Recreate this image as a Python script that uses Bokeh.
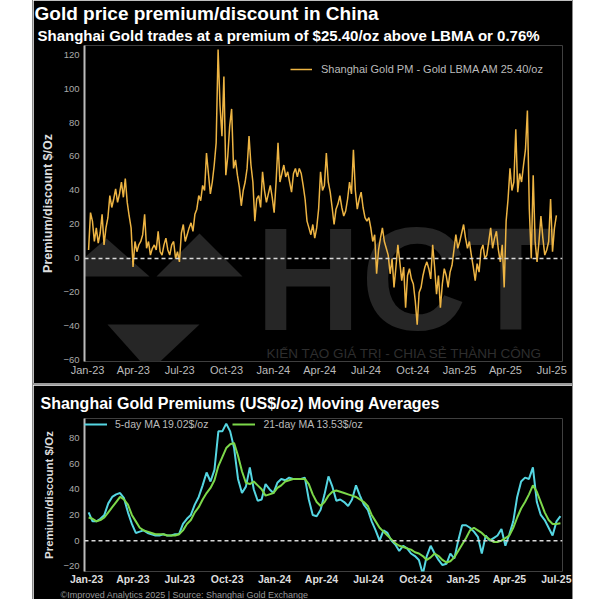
import pandas as pd
from bokeh.plotting import figure
from bokeh.models import (Range1d, FixedTicker, DatetimeTickFormatter, Span, Legend,
                          LegendItem, Title, Label, PolyAnnotation, Spacer)
from bokeh.layouts import row, column
from bokeh.embed import file_html
from bokeh.resources import INLINE

FONT = "Liberation Sans"
GOLD = "#EDB443"
CYAN = "#55D6E2"
GREEN = "#7CD84A"

# ---------------- data ----------------
tick_dates = ["2023-01-01", "2023-04-01", "2023-07-01", "2023-10-01",
              "2024-01-01", "2024-04-01", "2024-07-01", "2024-10-01",
              "2025-01-01", "2025-04-01", "2025-07-01"]

# Shanghai Gold PM - Gold LBMA AM premium ($/oz), ~8 readings per month
prem_2023 = [5, 27, 22, 10, 18, 9, 15, 26,
             8, 18, 24, 37, 30, 35, 41, 33,
             38, 45, 36, 47, 33, 25, 18, -5,
             10, 4, 8, 10, 14, 26, 6, 10,
             2, 6, 8, 5, 16, 4, 2, 8,
             12, 5, 2, 8, 10, 0, 4, -2,
             15, 20, 10, 14, 18, 21, 16, 26,
             29, 37, 34, 43, 40, 62, 50, 38,
             45, 55, 68, 123, 90, 72, 107, 49,
             60, 78, 88, 53, 58, 49, 42, 31,
             40, 45, 53, 72, 55, 45, 22, 35,
             37, 30, 51, 40, 33, 38, 43, 36]
prem_2024 = [27, 45, 68, 45, 50, 55, 48, 51,
             45, 39, 50, 53, 48, 53, 50, 43,
             35, 22, 18, 14, 20, 12, 18, 29,
             51, 40, 43, 62, 45, 39, 30, 20,
             29, 32, 37, 30, 25, 28, 35, 45,
             38, 64, 40, 29, 35, 39, 30, 24,
             22, 24, 18, 10, 14, -9, 5, 12,
             18, 10, 6, 2, -9, 0, -17, -5,
             8, -2, -13, -5, -29, -10, -6, -12,
             -15, -25, -39, -20, -17, -10, -5, -2,
             -6, -12, 8, -5, -21, -10, -29, -15,
             -6, -10, -17, -8, -4, 5, 14, 6]
prem_2025 = [10, 15, 20, 12, 6, 10, 2, -5,
             -13, -3, -8, 5, 8, 0, 2, 10,
             18, 6, 12, 16, 5, -2, 8, -17,
             22, 35, 53, 40, 45, 76, 39, 50,
             45, 55, 64, 87, 29, 0, 49, 10,
             -2, 10, 25, 12, 2, 5, 10, 35,
             4, 18, 25.4]

# Moving averages (weekly readings)
ma5_2023 = [22, 15, 15, 17, 20, 29, 34, 36, 37, 33, 22, 13, 6, 7, 8, 6,
            5, 4, 4, 5, 4, 4, 5, 5, 13, 17, 20, 28, 34, 43, 53, 46,
            55, 85, 85, 91, 85, 72, 48, 37, 42, 57, 40, 31, 32, 44, 40, 37]
ma5_2024 = [45, 48, 47, 49, 48, 48, 48, 49, 32, 20, 19, 24, 36, 50, 42, 31,
            32, 30, 27, 32, 43, 35, 28, 24, 15, 8, 0, 8, 6, 0, -3, -8,
            -4, -6, -10, -12, -15, -26, -12, -4, -10, -15, -19, -18, -10, -14, 0, 12]
ma5_2025 = [12, 10, 7, 3, -10, 4, 0, 2, 4, 9, -4, 5, 15, 34, 46, 49,
            48, 57, 30, 20, 16, 10, 4, 15, 19.02]

ma21_2023 = [18, 17, 15, 16, 18, 22, 26, 30, 34, 32, 28, 20, 15, 10, 8, 7,
             6, 5, 5, 5, 4, 4, 4, 5, 8, 13, 16, 22, 26, 32, 37, 41,
             47, 58, 65, 72, 75, 76, 66, 54, 45, 44, 46, 43, 40, 35, 36, 37]
ma21_2024 = [41, 43, 46, 47, 48, 48, 48, 48, 44, 36, 30, 27, 30, 35, 38, 39,
             38, 37, 36, 35, 34, 32, 30, 27, 20, 15, 10, 7, 4, 1, -2, -4,
             -5, -6, -7, -9, -10, -12, -15, -13, -10, -12, -15, -17, -16, -13, -8, -3]
ma21_2025 = [2, 8, 10, 8, 6, 3, 1, -1, -1, 0, 2, 4, 10, 18, 25, 30,
             36, 43, 38, 30, 22, 16, 13, 13, 13.53]

prem = prem_2023 + prem_2024 + prem_2025
ma5 = ma5_2023 + ma5_2024 + ma5_2025
ma21 = ma21_2023 + ma21_2024 + ma21_2025
prem_dates = pd.date_range("2023-01-03", "2025-07-10", periods=len(prem))
ma_dates = pd.date_range("2023-01-05", "2025-07-09", periods=len(ma5))

ticks_ms = [pd.Timestamp(d).value / 1e6 for d in tick_dates]
fmt = DatetimeTickFormatter(days="%b-%y", months="%b-%y", years="%b-%y")


def style(p, ylabel, xbold, ylabel_size):
    p.xgrid.visible = False
    p.ygrid.visible = False
    xa, ya = p.xaxis[0], p.yaxis[0]
    xa.ticker = FixedTicker(ticks=ticks_ms)
    xa.formatter = fmt
    xa.axis_line_color = None
    xa.major_tick_line_color = None
    xa.minor_tick_line_color = None
    xa.major_tick_out = 0
    xa.major_tick_in = 0
    xa.major_label_standoff = 2
    xa.major_label_text_font = FONT
    if xbold:
        xa.major_label_text_font_size = "10.5px"
        xa.major_label_text_font_style = "bold"
        xa.major_label_text_color = "#dddddd"
    else:
        xa.major_label_text_font_size = "11px"
        xa.major_label_text_color = "#bbbbbb"
    ya.axis_line_color = "#bbbbbb"
    ya.axis_line_width = 2
    ya.major_tick_line_color = None
    ya.minor_tick_line_color = None
    ya.major_tick_out = 0
    ya.major_tick_in = 0
    ya.major_label_standoff = 5
    ya.major_label_text_font = FONT
    ya.major_label_text_font_size = "9.5px"
    ya.major_label_text_color = "#aaaaaa"
    ya.axis_label = ylabel
    ya.axis_label_text_font = FONT
    ya.axis_label_text_font_size = ylabel_size
    ya.axis_label_text_font_style = "bold"
    ya.axis_label_text_color = "#dddddd"
    ya.axis_label_standoff = 5
    p.add_layout(Span(location=0, dimension="width", line_color="#d8d8d8",
                      line_dash="4 3", line_width=1.5))


# ---------------- top figure ----------------
p1 = figure(width=539, height=383, x_axis_type="datetime", output_backend="svg",
            toolbar_location=None, title=None,
            x_range=Range1d(pd.Timestamp("2022-12-26"), pd.Timestamp("2025-07-22")),
            y_range=Range1d(-60.6, 125.3),
            background_fill_color="black", border_fill_color="black",
            outline_line_color=None, min_border_left=51, min_border_right=6,
            min_border_top=43, min_border_bottom=22)
style(p1, "Premium/discount $/Oz", False, "12.5px")
p1.yaxis[0].ticker = FixedTicker(ticks=[-60, -40, -20, 0, 20, 40, 60, 80, 100, 120])

# watermark
WM = "#262626"
for xs, ys in [([-22, 22, 65], [85, 123, 85]),
               ([72, 115, 158], [85, 128, 85]),
               ([23, 115, 65], [37, 37, -10])]:
    p1.add_layout(PolyAnnotation(xs=xs, ys=ys, xs_units="screen", ys_units="screen",
                                 fill_color=WM, fill_alpha=1, line_color=None,
                                 level="underlay"))
p1.add_layout(Label(x=171, y=1, x_units="screen", y_units="screen", text="HCT",
                    text_font=FONT, text_font_size="146px", text_font_style="bold",
                    text_color=WM, text_baseline="bottom", level="underlay"))
p1.add_layout(Label(x=182, y=1, x_units="screen", y_units="screen",
                    text="KIẾN TẠO GIÁ TRỊ  -  CHIA SẺ THÀNH CÔNG",
                    text_font=FONT, text_font_size="13.5px", text_color="#2e2e2e",
                    text_baseline="bottom", level="underlay"))

r1 = p1.line(prem_dates, prem, line_color=GOLD, line_width=1.5)
leg1 = Legend(items=[LegendItem(label="Shanghai Gold PM - Gold LBMA AM 25.40/oz", renderers=[r1])],
              location=(206, 286), background_fill_alpha=0, border_line_color=None,
              label_text_color="#bbbbbb", label_text_font=FONT, label_text_font_size="11px",
              glyph_width=22, glyph_height=12, label_height=12, padding=4, margin=0,
              label_standoff=9)
p1.add_layout(leg1)

p1.add_layout(Title(text="Shanghai Gold trades at a premium of $25.40/oz above LBMA or 0.76%",
                    text_font=FONT, text_font_size="15px", text_font_style="bold",
                    text_color="white", align="left", offset=-47, standoff=3), "above")
p1.add_layout(Title(text="Gold price premium/discount in China",
                    text_font=FONT, text_font_size="19px", text_font_style="bold",
                    text_color="white", align="left", offset=-50, standoff=0), "above")

# ---------------- bottom figure ----------------
p2 = figure(width=539, height=214, x_axis_type="datetime", output_backend="svg",
            toolbar_location=None, title=None,
            x_range=Range1d(pd.Timestamp("2022-12-28"), pd.Timestamp("2025-07-13")),
            y_range=Range1d(-24, 95),
            background_fill_color="black", border_fill_color="black",
            outline_line_color=None, min_border_left=48, min_border_right=10,
            min_border_top=33, min_border_bottom=24)
style(p2, "Premium/discount $/Oz", True, "11.5px")
p2.yaxis[0].ticker = FixedTicker(ticks=[-20, 0, 20, 40, 60, 80])
p2.xaxis[0].major_label_standoff = 1

r5 = p2.line(ma_dates, ma5, line_color=CYAN, line_width=2)
r21 = p2.line(ma_dates, ma21, line_color=GREEN, line_width=2)
leg2 = Legend(items=[LegendItem(label="5-day MA 19.02$/oz", renderers=[r5]),
                     LegendItem(label="21-day MA 13.53$/oz", renderers=[r21])],
              location="top_left", orientation="horizontal",
              background_fill_alpha=0, border_line_color=None,
              label_text_color="#bbbbbb", label_text_font=FONT, label_text_font_size="10.5px",
              glyph_width=23, glyph_height=12, label_height=12, padding=1, margin=0,
              label_standoff=8, spacing=24)
p2.add_layout(leg2)

p2.add_layout(Title(text="Shanghai Gold Premiums (US$/oz) Moving Averages",
                    text_font=FONT, text_font_size="16px", text_font_style="bold",
                    text_color="white", align="left", offset=-44, standoff=13), "above")
p2.add_layout(Title(text="©Improved Analytics 2025 | Source: Shanghai Gold Exchange",
                    text_font=FONT, text_font_size="9px", text_font_style="normal",
                    text_color="#9a9a9a", align="left", offset=-24, standoff=0), "below")

GRAY = "#8a8a8a"
sep = Spacer(width=539, height=2, styles={"background-color": "#9a9a9a"})
edge_l = Spacer(width=1, height=599, styles={"background-color": GRAY})
edge_r = Spacer(width=1, height=599, styles={"background-color": GRAY})
layout = row(Spacer(width=32, height=599), edge_l, column(p1, sep, p2), edge_r)

open("out.html", "w").write(file_html(layout, INLINE))
